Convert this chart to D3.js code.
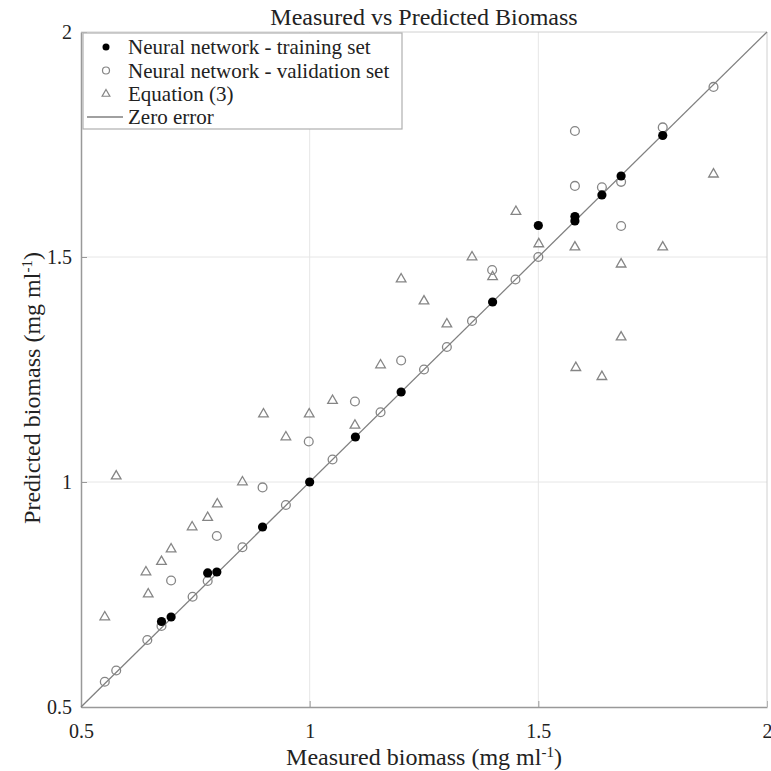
<!DOCTYPE html>
<html>
<head>
<meta charset="utf-8">
<script src="https://cdn.jsdelivr.net/npm/d3@7"></script>
<style>
	body { margin: 0; background: #fff; }
	text { font-family: "Liberation Serif", "Times New Roman", serif; fill: #222; }
</style>
</head>
<body>
<svg id="chart" width="771" height="771"></svg>
<script>
// measured vs predicted
const trainX = [0.676, 0.697, 0.777, 0.797, 0.897, 1.0, 1.1, 1.2, 1.4, 1.5, 1.58, 1.58, 1.639, 1.681, 1.772];
const trainY = [0.69, 0.70, 0.798, 0.80, 0.90, 1.0, 1.1, 1.2, 1.4, 1.57, 1.58, 1.59, 1.638, 1.68, 1.77];

const validX = [0.552, 0.577, 0.645, 0.676, 0.744, 0.777, 0.853, 0.948, 1.05, 1.155, 1.25, 1.30, 1.355, 1.45, 1.50, 1.883,
	0.697, 0.797, 0.897, 0.998, 1.099, 1.2, 1.399, 1.58, 1.58, 1.639, 1.681, 1.681, 1.772];
const validY = [0.556, 0.581, 0.649, 0.68, 0.745, 0.78, 0.855, 0.949, 1.05, 1.155, 1.25, 1.30, 1.358, 1.45, 1.50, 1.878,
	0.781, 0.88, 0.988, 1.09, 1.179, 1.27, 1.471, 1.78, 1.658, 1.655, 1.667, 1.569, 1.788];

const eqX = [0.552, 0.577, 0.642, 0.647, 0.676, 0.697, 0.743, 0.777, 0.798, 0.853, 0.899, 0.948, 0.999, 1.05, 1.099,
	1.155, 1.2, 1.25, 1.30, 1.355, 1.40, 1.451, 1.501, 1.58, 1.582, 1.639, 1.681, 1.681, 1.772, 1.883];
const eqY = [0.70, 1.013, 0.80, 0.751, 0.823, 0.851, 0.90, 0.921, 0.951, 1.0, 1.151, 1.10, 1.151, 1.181, 1.126,
	1.26, 1.451, 1.402, 1.351, 1.50, 1.456, 1.601, 1.529, 1.522, 1.254, 1.234, 1.484, 1.322, 1.522, 1.684];

const xTicks = [0.5, 1, 1.5, 2];
const yTicks = [0.5, 1, 1.5, 2];
const legendLabels = ['Neural network - training set', 'Neural network - validation set', 'Equation (3)', 'Zero error'];

!(function(){
	"use strict";

	let svg = d3.select('#chart'),
		box = {left: 81, right: 767, top: 32, bottom: 707},
		x = d3.scaleLinear().domain([0.5, 2]).range([box.left, box.right]),
		y = d3.scaleLinear().domain([0.5, 2]).range([box.bottom, box.top]),
		zip = (a, b) => a.map((v, i) => [v, b[i]]);

	// grid
	let grid = svg.append('g').attr('stroke', '#e6e6e6').attr('stroke-width', 1);
	xTicks.slice(1, -1).forEach((t) => {
		grid.append('line').attr('x1', x(t)).attr('x2', x(t)).attr('y1', box.top).attr('y2', box.bottom);
	});
	yTicks.slice(1, -1).forEach((t) => {
		grid.append('line').attr('y1', y(t)).attr('y2', y(t)).attr('x1', box.left).attr('x2', box.right);
	});

	// axes, ticks pointing inward like matlab
	let xAxis = svg.append('g').attr('transform', `translate(0,${box.bottom})`)
		.call(d3.axisBottom(x).tickValues(xTicks).tickFormat(d3.format('')).tickSizeInner(-6).tickSizeOuter(0).tickPadding(17));
	let yAxis = svg.append('g').attr('transform', `translate(${box.left},0)`)
		.call(d3.axisLeft(y).tickValues(yTicks).tickFormat(d3.format('')).tickSizeInner(-6).tickSizeOuter(0).tickPadding(9));
	[xAxis, yAxis].forEach((a) => {
		a.select('.domain').attr('stroke', '#999').attr('stroke-width', 1.5);
		a.selectAll('.tick line').attr('stroke', '#999');
		a.selectAll('.tick text').attr('font-size', 20).attr('fill', '#222');
	});
	svg.append('path')
		.attr('d', `M${box.left},${box.top}H${box.right}V${box.bottom}`)
		.attr('fill', 'none').attr('stroke', '#d0d0d0').attr('stroke-width', 1);

	// zero error line
	svg.append('line')
		.attr('x1', x(0.5)).attr('y1', y(0.5)).attr('x2', x(2)).attr('y2', y(2))
		.attr('stroke', '#808080').attr('stroke-width', 1.3);

	let tri = d3.symbol().type(d3.symbolTriangle).size(40);

	svg.append('g').selectAll('path')
		.data(zip(eqX, eqY))
		.enter().append('path')
		.attr('d', tri)
		.attr('transform', (d) => `translate(${x(d[0])},${y(d[1])})`)
		.attr('fill', 'none').attr('stroke', '#858585').attr('stroke-width', 1.3);

	svg.append('g').selectAll('circle')
		.data(zip(validX, validY))
		.enter().append('circle')
		.attr('cx', (d) => x(d[0])).attr('cy', (d) => y(d[1])).attr('r', 4.4)
		.attr('fill', 'none').attr('stroke', '#858585').attr('stroke-width', 1.3);

	svg.append('g').selectAll('circle')
		.data(zip(trainX, trainY))
		.enter().append('circle')
		.attr('cx', (d) => x(d[0])).attr('cy', (d) => y(d[1])).attr('r', 4.6)
		.attr('fill', '#000');

	// legend
	let lg = svg.append('g').attr('transform', 'translate(83,33)');
	lg.append('rect').attr('width', 319).attr('height', 96)
		.attr('fill', '#fff').attr('stroke', '#b0b0b0').attr('stroke-width', 1.2);
	let rowY = [14, 37.5, 61, 84];
	legendLabels.forEach((lab, i) => {
		let cy = rowY[i];
		if (i === 0) lg.append('circle').attr('cx', 23).attr('cy', cy).attr('r', 3.5).attr('fill', '#000');
		if (i === 1) lg.append('circle').attr('cx', 23).attr('cy', cy).attr('r', 3.5).attr('fill', 'none').attr('stroke', '#858585').attr('stroke-width', 1.2);
		if (i === 2) lg.append('path').attr('d', d3.symbol().type(d3.symbolTriangle).size(26))
			.attr('transform', `translate(23,${cy})`).attr('fill', 'none').attr('stroke', '#858585').attr('stroke-width', 1.2);
		if (i === 3) lg.append('line').attr('x1', 4).attr('x2', 40).attr('y1', cy).attr('y2', cy).attr('stroke', '#808080').attr('stroke-width', 1.3);
		lg.append('text').attr('x', 45).attr('y', cy).attr('dy', '0.35em').attr('font-size', 21).text(lab);
	});

	// title + labels
	svg.append('text').attr('x', 424).attr('y', 25).attr('text-anchor', 'middle').attr('font-size', 24)
		.text('Measured vs Predicted Biomass');

	let xl = svg.append('text').attr('x', 424).attr('y', 765).attr('text-anchor', 'middle').attr('font-size', 24);
	xl.append('tspan').text('Measured biomass (mg ml');
	xl.append('tspan').attr('baseline-shift', 'super').attr('font-size', 15).text('-1');
	xl.append('tspan').text(')');

	let yl = svg.append('text').attr('transform', 'translate(40,388) rotate(-90)').attr('text-anchor', 'middle').attr('font-size', 24);
	yl.append('tspan').text('Predicted biomass (mg ml');
	yl.append('tspan').attr('baseline-shift', 'super').attr('font-size', 15).text('-1');
	yl.append('tspan').text(')');
}());
</script>
</body>
</html>
